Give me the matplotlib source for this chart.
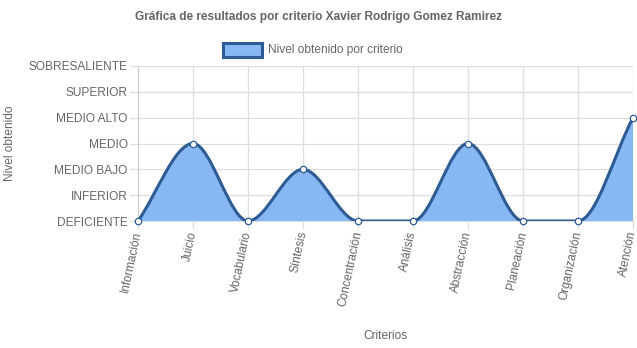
import numpy as np
import matplotlib.pyplot as plt
from matplotlib.path import Path
from matplotlib.patches import PathPatch, Rectangle
from matplotlib.transforms import ScaledTranslation

plt.rcParams['font.family'] = ['Liberation Sans', 'DejaVu Sans']

# datos
criterios = ['Información', 'Juicio', 'Vocabulario', 'Síntesis', 'Concentración',
             'Análisis', 'Abstracción', 'Planeación', 'Organización', 'Atención']
niveles = ['DEFICIENTE', 'INFERIOR', 'MEDIO BAJO', 'MEDIO', 'MEDIO ALTO',
           'SUPERIOR', 'SOBRESALIENTE']
valores = [0, 3, 0, 2, 0, 0, 3, 0, 0, 4]

titulo = 'Gráfica de resultados por criterio Xavier Rodrigo Gomez Ramirez'
etiqueta_serie = 'Nivel obtenido por criterio'

gris = '#666666'
linea = '#2e5b94'
relleno = '#88b8f4'


# curva monotona (como chart.js) -> vertices bezier
def curva_monotona(x, y):
    x = np.asarray(x, float)
    y = np.asarray(y, float)
    n = len(x)
    dk = np.diff(y) / np.diff(x)
    mk = np.zeros(n)
    mk[0] = dk[0]
    mk[-1] = dk[-1]
    for i in range(1, n - 1):
        if dk[i - 1] == 0 or dk[i] == 0 or np.sign(dk[i - 1]) != np.sign(dk[i]):
            mk[i] = 0
        else:
            mk[i] = (dk[i - 1] + dk[i]) / 2
    for i in range(n - 1):
        if dk[i] == 0:
            mk[i] = mk[i + 1] = 0
            continue
        a = mk[i] / dk[i]
        b = mk[i + 1] / dk[i]
        s = a * a + b * b
        if s > 9:
            t = 3 / np.sqrt(s)
            mk[i] = a * t * dk[i]
            mk[i + 1] = b * t * dk[i]
    verts = [(x[0], y[0])]
    codes = [Path.MOVETO]
    for i in range(n - 1):
        d = (x[i + 1] - x[i]) / 3
        verts += [(x[i] + d, y[i] + d * mk[i]),
                  (x[i + 1] - d, y[i + 1] - d * mk[i + 1]),
                  (x[i + 1], y[i + 1])]
        codes += [Path.CURVE4] * 3
    return verts, codes


xs = np.arange(len(criterios))

fig = plt.figure(figsize=(6.37, 3.48), dpi=100)
ax = fig.add_axes([138 / 637, 1 - 221 / 348, 495 / 637, 155 / 348])

verts, codes = curva_monotona(xs, valores)

# relleno hasta el origen
vf = verts + [(xs[-1], 0), (xs[0], 0), (xs[0], valores[0])]
cf = codes + [Path.LINETO, Path.LINETO, Path.CLOSEPOLY]
ax.add_patch(PathPatch(Path(vf, cf), facecolor=relleno, edgecolor='none', zorder=2))
ax.add_patch(PathPatch(Path(verts, codes), facecolor='none', edgecolor=linea,
                       lw=2.2, zorder=3, capstyle='round', joinstyle='round'))
ax.plot(xs, valores, 'o', ms=4.6, mfc='white', mec=linea, mew=0.9,
        zorder=4, clip_on=False, color=linea)

ax.set_xlim(0, len(criterios) - 1)
ax.set_ylim(0, len(niveles) - 1)
ax.set_xticks(xs)
ax.set_xticklabels(criterios, rotation=78, ha='right', va='center',
                   rotation_mode='anchor', color=gris, fontsize=8.6)
desplaza = ScaledTranslation(3 / 100, 0, fig.dpi_scale_trans)
for t in ax.get_xticklabels():
    t.set_transform(t.get_transform() + desplaza)
ax.set_yticks(range(len(niveles)))
ax.set_yticklabels(niveles, color=gris, fontsize=8.6)
ax.grid(True, color='#dedede', lw=0.9, zorder=0)
ax.set_axisbelow(True)
ax.tick_params(axis='both', length=6, width=0.9, color='#dedede', pad=1.5)
for lado in ['top', 'right']:
    ax.spines[lado].set_visible(False)
ax.spines['left'].set_color('#cccccc')
ax.spines['bottom'].set_color('#dedede')

fig.text(0.5, 1 - 17 / 348, titulo, ha='center', va='center',
         fontsize=8.6, fontweight='bold', color=gris)

# leyenda
fig.add_artist(Rectangle((223 / 637, 1 - 57 / 348), 39 / 637, 14 / 348,
                         transform=fig.transFigure, facecolor=relleno,
                         edgecolor=linea, lw=2.2))
fig.text(268 / 637, 1 - 50 / 348, etiqueta_serie, ha='left', va='center',
         fontsize=8.6, color=gris)

fig.text(10 / 637, 1 - 143 / 348, 'Nivel obtenido', rotation=90, ha='center',
         va='center', fontsize=8.6, color=gris)
fig.text(385 / 637, 1 - 336 / 348, 'Criterios', ha='center', va='center',
         fontsize=8.6, color=gris)

fig.savefig('out.png', dpi=100)
